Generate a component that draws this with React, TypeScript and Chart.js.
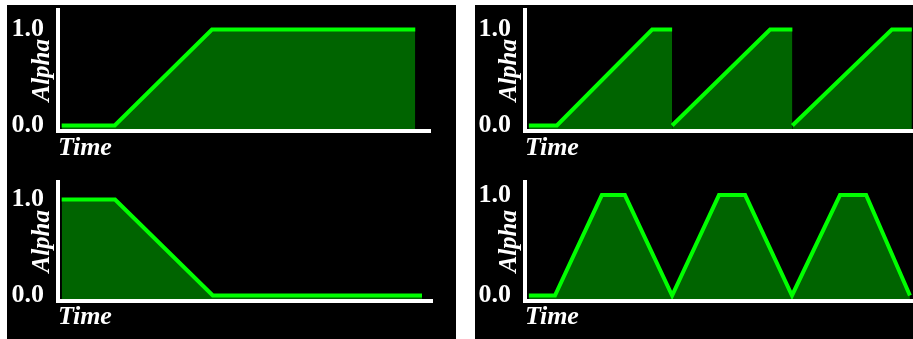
import React, { useEffect, useRef } from 'react';
import { Chart, registerables } from 'chart.js';

Chart.register(...registerables);

// ---- data ----
const xTitle = 'Time';
const yTitle = 'Alpha';
const yTickValues = [0, 1];

// fade in (top left)
const fadeInTime = [0, 14.4, 40.8, 96];
const fadeInAlpha = [0, 0, 1, 1];

// fade out (bottom left)
const fadeOutTime = [0, 14.4, 40.8, 97.3];
const fadeOutAlpha = [1, 1, 0, 0];

// repeating ramp (top right)
const sawTime = [0, 7.3, 32.1, 37.3, 37.3, 62.8, 68.6, 68.6, 94.5, 99.7];
const sawAlpha = [0, 0, 1, 1, 0, 1, 1, 0, 1, 1];

// ping-pong pulse (bottom right)
const pulseTime = [0, 6.8, 19, 25, 37.3, 49.5, 56.3, 68.5, 81, 87.8, 99.2];
const pulseAlpha = [0, 0, 1, 1, 0, 1, 1, 0, 1, 1, 0];

const LINE = '#00ff00';
const FILL = '#006400';
const WHITE = '#ffffff';
const SERIF = "'Liberation Serif', 'Times New Roman', serif";

type Props = {
  left: number;
  top: number;
  width: number;
  height: number;
  times: number[];
  alphas: number[];
  yMin: number;
  yMax: number;
  padTop: number;
  padRight: number;
  xAxisHeight: number;
};

function AlphaChart(p: Props) {
  const ref = useRef<HTMLCanvasElement>(null);
  useEffect(() => {
    const chart = new Chart(ref.current as HTMLCanvasElement, {
      type: 'line',
      data: {
        datasets: [
          {
            data: p.times.map((t, i) => ({ x: t, y: p.alphas[i] })),
            borderColor: LINE,
            backgroundColor: FILL,
            borderWidth: 4,
            fill: 'start',
            pointRadius: 0,
            pointHoverRadius: 0,
            tension: 0,
            borderJoinStyle: 'miter',
            segment: {
              borderColor: (c: any) =>
                c.p0.parsed.x === c.p1.parsed.x ? 'rgba(0,0,0,0)' : undefined,
            },
          } as any,
        ],
      },
      options: {
        responsive: false,
        animation: false,
        events: [],
        layout: { padding: { left: 0, top: p.padTop, right: p.padRight, bottom: 0 } },
        plugins: { legend: { display: false }, tooltip: { enabled: false } },
        scales: {
          x: {
            type: 'linear',
            min: -1,
            max: 100,
            ticks: { display: false },
            grid: { display: false },
            border: { color: WHITE, width: 4, z: 1 },
            title: {
              display: true,
              text: xTitle,
              align: 'start',
              color: WHITE,
              font: { family: SERIF, size: 26, weight: 'bold', style: 'italic', lineHeight: 1 },
              padding: { top: 0, bottom: 9 },
            },
            afterFit: (s: any) => {
              s.height = p.xAxisHeight;
              s.paddingLeft = 0;
              s.paddingRight = 0;
            },
          },
          y: {
            type: 'linear',
            min: p.yMin,
            max: p.yMax,
            afterBuildTicks: (s: any) => {
              s.ticks = yTickValues.map((v) => ({ value: v }));
            },
            ticks: {
              color: WHITE,
              padding: 6,
              font: { family: SERIF, size: 26, weight: 'bold', lineHeight: 1 },
              callback: (v: any) => Number(v).toFixed(1),
            },
            grid: { display: false },
            border: { color: WHITE, width: 4, z: 1 },
            title: {
              display: true,
              text: yTitle,
              color: WHITE,
              font: { family: SERIF, size: 25, weight: 'bold', style: 'italic', lineHeight: 1 },
              padding: { top: 22, bottom: 0 },
            },
            afterFit: (s: any) => {
              s.width = 50;
              s.paddingTop = 0;
              s.paddingBottom = 0;
            },
          },
        },
      } as any,
    });
    return () => chart.destroy();
  }, []);
  return (
    <canvas
      ref={ref}
      width={p.width}
      height={p.height}
      style={{ position: 'absolute', left: p.left, top: p.top, display: 'block' }}
    />
  );
}

export default function App() {
  return (
    <div>
      <div style={{ position: 'absolute', left: 7, top: 5, width: 449, height: 334, background: '#000' }} />
      <div style={{ position: 'absolute', left: 475, top: 5, width: 438, height: 334, background: '#000' }} />
      <AlphaChart left={8} top={5} width={447} height={165} times={fadeInTime} alphas={fadeInAlpha}
        yMin={-0.052} yMax={1.203} padTop={5} padRight={25} xAxisHeight={39.5} />
      <AlphaChart left={8} top={175} width={447} height={164} times={fadeOutTime} alphas={fadeOutAlpha}
        yMin={-0.052} yMax={1.182} padTop={7} padRight={23} xAxisHeight={38.5} />
      <AlphaChart left={475} top={5} width={438} height={165} times={sawTime} alphas={sawAlpha}
        yMin={-0.052} yMax={1.203} padTop={5} padRight={0} xAxisHeight={39.5} />
      <AlphaChart left={475} top={175} width={438} height={164} times={pulseTime} alphas={pulseAlpha}
        yMin={-0.05} yMax={1.13} padTop={7} padRight={0} xAxisHeight={38.5} />
    </div>
  );
}
